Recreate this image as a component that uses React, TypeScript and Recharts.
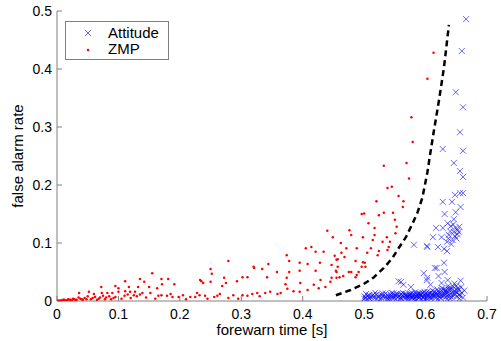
import { ScatterChart, Scatter, XAxis, YAxis } from 'recharts';

// [forewarn time, false alarm rate]
const attitudePoints: [number, number][] = [
  [0.666, 0.486], [0.659, 0.431], [0.649, 0.36], [0.661, 0.334], [0.656, 0.291],
  [0.628, 0.262], [0.661, 0.259], [0.646, 0.238], [0.656, 0.224], [0.661, 0.214],
  [0.648, 0.183], [0.656, 0.186], [0.661, 0.186], [0.628, 0.171], [0.643, 0.171],
  [0.657, 0.162], [0.649, 0.153], [0.631, 0.15], [0.646, 0.141], [0.636, 0.134],
  [0.617, 0.126], [0.628, 0.126], [0.641, 0.129], [0.649, 0.126], [0.654, 0.119],
  [0.646, 0.119], [0.612, 0.11], [0.626, 0.11], [0.638, 0.114], [0.644, 0.105],
  [0.635, 0.102], [0.65, 0.108], [0.652, 0.122], [0.603, 0.093], [0.62, 0.093],
  [0.63, 0.09], [0.635, 0.086], [0.581, 0.097], [0.602, 0.095], [0.63, 0.066],
  [0.618, 0.057], [0.631, 0.05], [0.597, 0.048], [0.621, 0.043], [0.602, 0.036],
  [0.636, 0.036], [0.626, 0.031], [0.608, 0.028], [0.638, 0.022], [0.633, 0.019],
  [0.615, 0.057], [0.603, 0.04], [0.556, 0.034], [0.564, 0.028], [0.576, 0.024],
  [0.56, 0.033], [0.64, 0.12], [0.645, 0.132], [0.652, 0.115], [0.648, 0.112],
  [0.655, 0.128], [0.642, 0.098], [0.637, 0.108],
  [0.5, 0.004], [0.501, 0.008], [0.503, 0.012], [0.507, 0.006], [0.51, 0.003],
  [0.513, 0.009], [0.517, 0.005], [0.52, 0.011], [0.523, 0.007], [0.526, 0.003],
  [0.529, 0.01], [0.532, 0.006], [0.535, 0.013], [0.538, 0.004], [0.54, 0.008],
  [0.543, 0.011], [0.546, 0.005], [0.548, 0.009], [0.551, 0.003], [0.553, 0.012],
  [0.556, 0.007], [0.558, 0.01], [0.561, 0.004], [0.563, 0.014], [0.565, 0.008],
  [0.567, 0.005], [0.569, 0.011], [0.571, 0.003], [0.573, 0.009], [0.575, 0.013],
  [0.577, 0.006], [0.579, 0.01], [0.581, 0.004], [0.583, 0.015], [0.585, 0.008],
  [0.587, 0.012], [0.589, 0.005], [0.591, 0.01], [0.593, 0.003], [0.595, 0.014],
  [0.597, 0.007], [0.599, 0.011], [0.601, 0.005], [0.603, 0.016], [0.605, 0.009],
  [0.607, 0.013], [0.609, 0.004], [0.611, 0.018], [0.613, 0.008], [0.615, 0.012],
  [0.617, 0.006], [0.619, 0.02], [0.621, 0.01], [0.623, 0.015], [0.625, 0.005],
  [0.627, 0.022], [0.629, 0.011], [0.631, 0.017], [0.633, 0.007], [0.635, 0.013],
  [0.637, 0.026], [0.639, 0.009], [0.641, 0.019], [0.643, 0.006], [0.645, 0.012],
  [0.647, 0.03], [0.649, 0.016], [0.651, 0.008], [0.653, 0.022], [0.655, 0.011],
  [0.657, 0.035], [0.659, 0.014], [0.661, 0.006], [0.663, 0.018], [0.58, 0.007],
  [0.59, 0.013], [0.6, 0.002], [0.61, 0.01], [0.62, 0.003], [0.63, 0.014],
  [0.64, 0.004], [0.65, 0.02], [0.56, 0.012], [0.57, 0.006], [0.55, 0.01],
  [0.54, 0.002], [0.53, 0.013], [0.515, 0.011], [0.505, 0.002], [0.545, 0.014],
  [0.585, 0.002], [0.625, 0.009], [0.635, 0.003], [0.645, 0.025], [0.655, 0.004],
  [0.618, 0.014], [0.608, 0.007], [0.598, 0.016], [0.588, 0.009], [0.578, 0.014],
  [0.568, 0.009], [0.558, 0.003], [0.548, 0.013], [0.538, 0.01], [0.528, 0.005],
  [0.518, 0.014], [0.508, 0.01],
  [0.502, 0.006], [0.506, 0.009], [0.511, 0.007], [0.516, 0.008], [0.521, 0.004],
  [0.525, 0.01], [0.531, 0.009], [0.536, 0.007], [0.541, 0.005], [0.544, 0.008],
  [0.549, 0.006], [0.552, 0.009], [0.555, 0.011], [0.559, 0.006], [0.562, 0.009],
  [0.566, 0.012], [0.57, 0.009], [0.572, 0.007], [0.574, 0.011], [0.576, 0.009],
  [0.578, 0.005], [0.582, 0.011], [0.584, 0.006], [0.586, 0.01], [0.588, 0.013],
  [0.59, 0.007], [0.592, 0.012], [0.594, 0.009], [0.596, 0.005], [0.598, 0.01],
  [0.6, 0.013], [0.602, 0.008], [0.604, 0.012], [0.606, 0.006], [0.608, 0.015],
  [0.61, 0.007], [0.612, 0.012], [0.614, 0.016], [0.616, 0.009], [0.618, 0.011],
  [0.62, 0.017], [0.622, 0.007], [0.624, 0.012], [0.626, 0.018], [0.628, 0.008],
  [0.63, 0.02], [0.632, 0.011], [0.634, 0.016], [0.636, 0.009], [0.638, 0.019],
  [0.64, 0.013], [0.642, 0.022], [0.644, 0.009], [0.646, 0.017], [0.648, 0.012],
  [0.65, 0.026], [0.652, 0.014], [0.654, 0.019], [0.656, 0.009], [0.658, 0.024],
];

const zmpPoints: [number, number][] = [
  [0.613, 0.428], [0.603, 0.383], [0.577, 0.317], [0.579, 0.274], [0.569, 0.238],
  [0.532, 0.233], [0.573, 0.211], [0.545, 0.197], [0.538, 0.195], [0.556, 0.181],
  [0.564, 0.172], [0.52, 0.172], [0.563, 0.162], [0.496, 0.15], [0.5, 0.151],
  [0.524, 0.148], [0.532, 0.152], [0.547, 0.152], [0.55, 0.14], [0.507, 0.134],
  [0.553, 0.128], [0.517, 0.126], [0.476, 0.122], [0.551, 0.117], [0.479, 0.114],
  [0.517, 0.114], [0.449, 0.11], [0.498, 0.11], [0.537, 0.11], [0.514, 0.105],
  [0.462, 0.1], [0.53, 0.102], [0.542, 0.102], [0.471, 0.091], [0.511, 0.091],
  [0.54, 0.093], [0.488, 0.091], [0.538, 0.088], [0.524, 0.086], [0.463, 0.083],
  [0.505, 0.083], [0.522, 0.079], [0.452, 0.078], [0.468, 0.076], [0.455, 0.071],
  [0.486, 0.069], [0.498, 0.067], [0.501, 0.066], [0.496, 0.059], [0.502, 0.059],
  [0.457, 0.059], [0.454, 0.052], [0.475, 0.05], [0.479, 0.05], [0.491, 0.05],
  [0.466, 0.043], [0.488, 0.045], [0.486, 0.041], [0.447, 0.04], [0.445, 0.033],
  [0.44, 0.121], [0.405, 0.091], [0.414, 0.093], [0.421, 0.085], [0.434, 0.085],
  [0.374, 0.079], [0.457, 0.072], [0.378, 0.069], [0.395, 0.066], [0.408, 0.064],
  [0.428, 0.066], [0.447, 0.062], [0.344, 0.064], [0.279, 0.069], [0.321, 0.057],
  [0.334, 0.055], [0.25, 0.055], [0.252, 0.047], [0.358, 0.05], [0.378, 0.05],
  [0.395, 0.052], [0.421, 0.052], [0.455, 0.05], [0.455, 0.04], [0.46, 0.041],
  [0.342, 0.041], [0.374, 0.04], [0.272, 0.04], [0.25, 0.033], [0.293, 0.034],
  [0.302, 0.041], [0.31, 0.041], [0.275, 0.031], [0.269, 0.026], [0.429, 0.036],
  [0.396, 0.031], [0.418, 0.028], [0.426, 0.022], [0.437, 0.024], [0.408, 0.019],
  [0.395, 0.016], [0.385, 0.017], [0.375, 0.021], [0.372, 0.029], [0.364, 0.014],
  [0.359, 0.012], [0.347, 0.016], [0.339, 0.014], [0.326, 0.014], [0.318, 0.012],
  [0.31, 0.009], [0.302, 0.01], [0.287, 0.01], [0.279, 0.005], [0.261, 0.009],
  [0.256, 0.007], [0.32, 0.059], [0.233, 0.036],
  [0.155, 0.048], [0.235, 0.034], [0.238, 0.031], [0.111, 0.034], [0.135, 0.038],
  [0.17, 0.038], [0.181, 0.038], [0.142, 0.033], [0.171, 0.029], [0.191, 0.029],
  [0.095, 0.026], [0.1, 0.022], [0.117, 0.024], [0.132, 0.024], [0.15, 0.024],
  [0.163, 0.022], [0.072, 0.024], [0.036, 0.014], [0.052, 0.016], [0.06, 0.012],
  [0.073, 0.014], [0.082, 0.014], [0.09, 0.014], [0.1, 0.016], [0.111, 0.017],
  [0.119, 0.016], [0.127, 0.016], [0.139, 0.014], [0.152, 0.014], [0.165, 0.009],
  [0.179, 0.009], [0.188, 0.007], [0.198, 0.007], [0.217, 0.007], [0.225, 0.007],
  [0.241, 0.009], [0.228, 0.014],
  [0.145, 0.006], [0.16, 0.004], [0.13, 0.008], [0.12, 0.005], [0.11, 0.009],
  [0.105, 0.004], [0.095, 0.007], [0.088, 0.003], [0.08, 0.006], [0.075, 0.009],
  [0.068, 0.004], [0.062, 0.007], [0.055, 0.003], [0.05, 0.008], [0.045, 0.005],
  [0.04, 0.003], [0.035, 0.006], [0.03, 0.002], [0.026, 0.004], [0.022, 0.002],
  [0.018, 0.003], [0.014, 0.001], [0.01, 0.002], [0.006, 0.001], [0.003, 0.001],
  [0.001, 0.0], [0.008, 0.001], [0.012, 0.002], [0.016, 0.001], [0.02, 0.002],
  [0.024, 0.001], [0.028, 0.003], [0.032, 0.002], [0.038, 0.004], [0.042, 0.002],
  [0.048, 0.003], [0.058, 0.005], [0.065, 0.002], [0.07, 0.006], [0.078, 0.003],
  [0.085, 0.008], [0.092, 0.005], [0.115, 0.011], [0.125, 0.01], [0.135, 0.011],
  [0.17, 0.01], [0.185, 0.012], [0.205, 0.01], [0.21, 0.003], [0.232, 0.01],
  [0.245, 0.004], [0.265, 0.012], [0.295, 0.004], [0.33, 0.008],
];

const curvePoints: [number, number][] = [
  [0.454, 0.01], [0.478, 0.019], [0.499, 0.029], [0.516, 0.041], [0.532, 0.057],
  [0.546, 0.074], [0.556, 0.091], [0.568, 0.11], [0.579, 0.134], [0.587, 0.153],
  [0.595, 0.179], [0.603, 0.222], [0.607, 0.25], [0.613, 0.29], [0.622, 0.347],
  [0.63, 0.403], [0.638, 0.476],
];

const xTicks = [0, 0.1, 0.2, 0.3, 0.4, 0.5, 0.6, 0.7];
const yTicks = [0, 0.1, 0.2, 0.3, 0.4, 0.5];

const toXY = (pts: [number, number][]) => pts.map(([x, y]) => ({ x, y }));

const FONT = '"Liberation Sans", Arial, sans-serif';
const AXIS = '#808080';

const XMark = ({ cx, cy }: any) => (
  <path
    d={`M${cx - 3},${cy - 3}L${cx + 3},${cy + 3}M${cx - 3},${cy + 3}L${cx + 3},${cy - 3}`}
    stroke="#0000ff"
    strokeWidth={0.6}
    fill="none"
  />
);

const Dot = ({ cx, cy }: any) => <circle cx={cx} cy={cy} r={1.25} fill="#ff0000" />;

export default function App() {
  const tickStyle = { fill: '#000', fontSize: 14, fontFamily: FONT };
  const labelStyle = { fill: '#000', fontSize: 15, fontFamily: FONT };
  return (
    <div style={{ position: 'relative', width: 501, height: 341, background: '#fff', fontFamily: FONT }}>
      <style>{'body{margin:0}'}</style>
      <ScatterChart width={501} height={341} margin={{ top: 11, right: 14, bottom: 0, left: 0 }}>
        <XAxis
          type="number"
          dataKey="x"
          domain={[0, 0.7]}
          ticks={xTicks}
          allowDataOverflow
          height={40}
          stroke={AXIS}
          tickSize={-5}
          tickMargin={13}
          tick={tickStyle}
          label={{ value: 'forewarn time [s]', position: 'insideBottom', offset: 6, style: labelStyle }}
        />
        <XAxis
          xAxisId="top"
          orientation="top"
          type="number"
          domain={[0, 0.7]}
          ticks={xTicks}
          allowDataOverflow
          height={0}
          stroke={AXIS}
          tickSize={-5}
          tick={false}
        />
        <YAxis
          type="number"
          dataKey="y"
          domain={[0, 0.5]}
          ticks={yTicks}
          allowDataOverflow
          width={57}
          stroke={AXIS}
          tickSize={-5}
          tickMargin={10}
          tick={tickStyle}
          label={{ value: 'false alarm rate', angle: -90, position: 'insideLeft', offset: 18, style: { ...labelStyle, textAnchor: 'middle' } }}
        />
        <YAxis
          yAxisId="right"
          orientation="right"
          type="number"
          domain={[0, 0.5]}
          ticks={yTicks}
          allowDataOverflow
          width={0}
          stroke={AXIS}
          tickSize={-5}
          tick={false}
        />
        <Scatter name="ZMP" data={toXY(zmpPoints)} shape={Dot} isAnimationActive={false} />
        <Scatter name="Attitude" data={toXY(attitudePoints)} shape={XMark} isAnimationActive={false} />
        <Scatter
          name="curve"
          data={toXY(curvePoints)}
          line={{ stroke: '#000', strokeWidth: 2.5, strokeDasharray: '6 4' }}
          lineType="joint"
          shape={() => <g />}
          isAnimationActive={false}
        />
      </ScatterChart>
      <div
        style={{
          position: 'absolute',
          left: 65,
          top: 21,
          width: 102,
          height: 37,
          border: `1px solid ${AXIS}`,
          background: '#fff',
        }}
      >
        <svg width={102} height={37} style={{ position: 'absolute', left: 0, top: 0 }}>
          <path d="M19,8L25,14M19,14L25,8" stroke="#0000ff" strokeWidth={0.6} fill="none" />
          <circle cx={22} cy={28} r={1.25} fill="#ff0000" />
          <text x={42} y={16} fontSize={15} fontFamily={FONT} fill="#000">Attitude</text>
          <text x={42} y={32} fontSize={15} fontFamily={FONT} fill="#000">ZMP</text>
        </svg>
      </div>
    </div>
  );
}
